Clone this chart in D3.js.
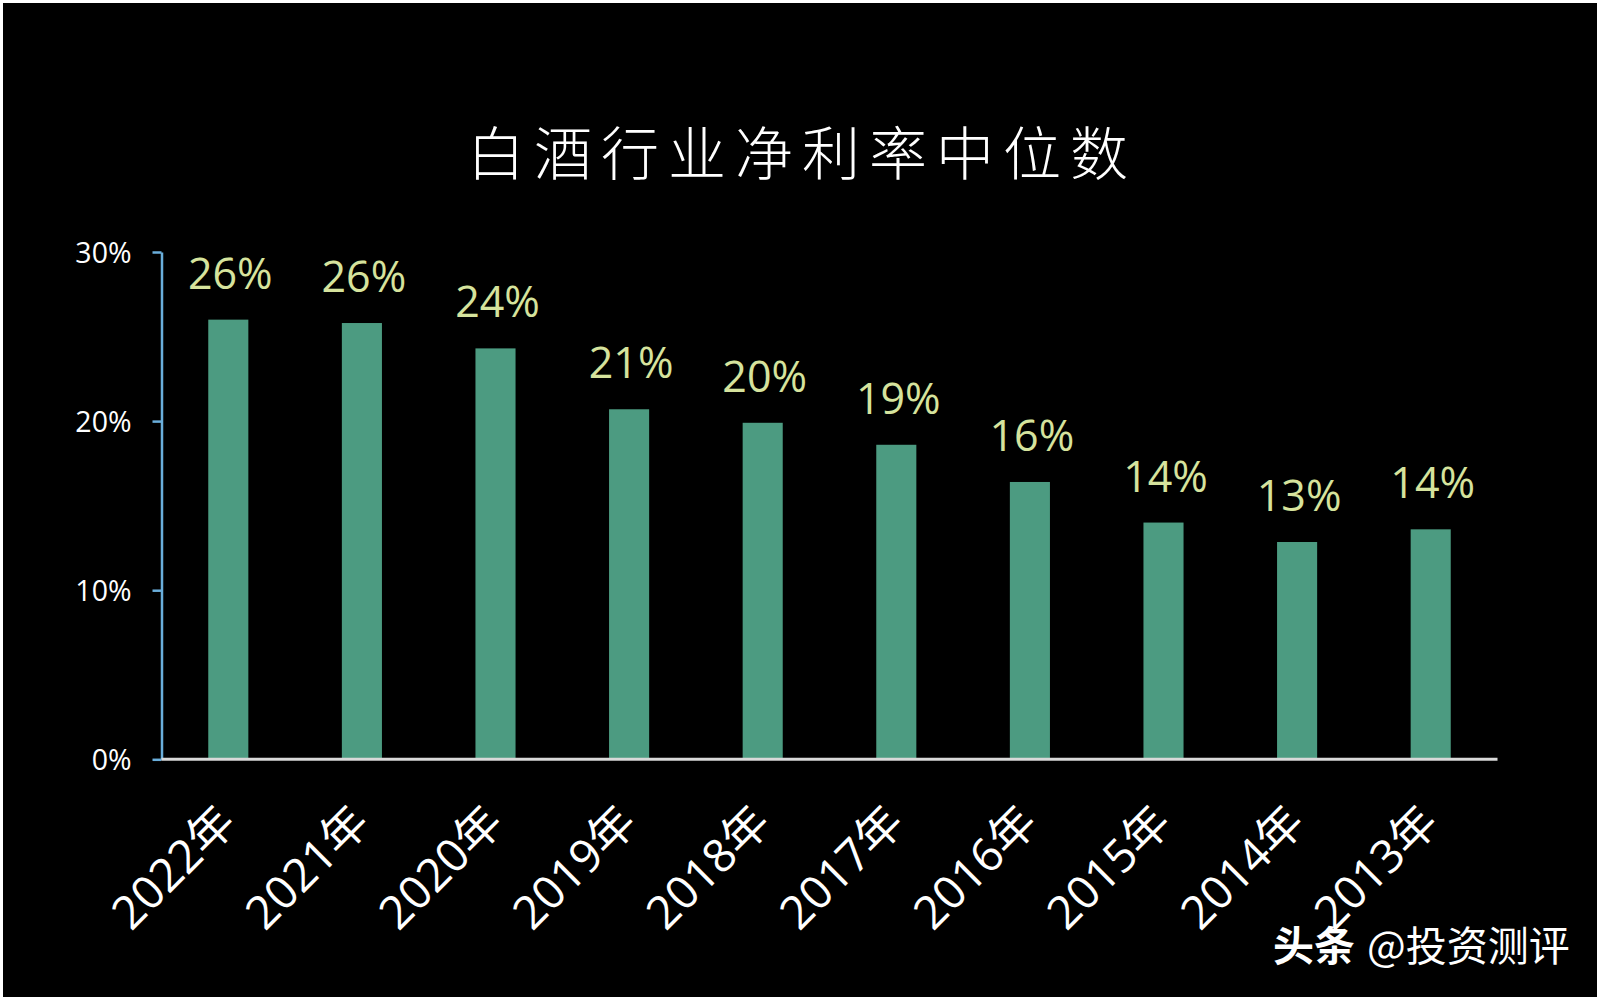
<!DOCTYPE html>
<html>
<head>
<meta charset="utf-8">
<script src="https://cdn.jsdelivr.net/npm/d3@7"></script>
<style>
    html, body { margin: 0; padding: 0; background: #ffffff; }
    svg { display: block; }
</style>
</head>
<body>
<svg id="chart" width="1600" height="1000"></svg>
<script>
'use strict';

// data
var years = ['2022年', '2021年', '2020年', '2019年', '2018年', '2017年', '2016年', '2015年', '2014年', '2013年'];
var margins = [0.260, 0.258, 0.243, 0.207, 0.199, 0.186, 0.164, 0.140, 0.1285, 0.136];
var yTicks = [0, 0.1, 0.2, 0.3];
var titleText = '白酒行业净利率中位数';
var sourceBold = '头条';
var sourceText = '@投资测评';

var W = 1600, H = 1000;
var LEFT = 161.5, RIGHT = 1497.5, TOP = 252, BOTTOM = 759.3;
var BAR = '#4c9b81';
var LABEL = '#d6e39d';
var AXIS_BLUE = '#6aaedb';
var FONT = '"Open Sans", "Noto Sans CJK SC", sans-serif';

var svg = d3.select('#chart');

// dark slide with a thin light edge
svg.append('rect').attr('x', 3).attr('y', 3).attr('width', W - 6).attr('height', H - 6).attr('fill', '#000');

svg.append('text')
    .attr('x', 467).attr('y', 175)
    .attr('fill', '#fff')
    .style('font-family', '"Noto Sans CJK SC", sans-serif')
    .style('font-weight', 300)
    .style('font-size', '58px')
    .style('letter-spacing', '9px')
    .text(titleText);

var x = d3.scaleBand().domain(years).range([LEFT, RIGHT]).paddingInner(0.7).paddingOuter(0.35);
var y = d3.scaleLinear().domain([0, 0.3]).range([BOTTOM, TOP]);

// bars
svg.append('g').selectAll('rect').data(margins).enter().append('rect')
    .attr('x', function (d, i) { return x(years[i]); })
    .attr('y', function (d) { return y(d); })
    .attr('width', x.bandwidth())
    .attr('height', function (d) { return y(0) - y(d); })
    .attr('fill', BAR);

// value labels
svg.append('g').selectAll('text').data(margins).enter().append('text')
    .attr('x', function (d, i) { return x(years[i]) + x.bandwidth() / 2 + 2; })
    .attr('y', function (d) { return y(d) - 31; })
    .attr('text-anchor', 'middle')
    .attr('fill', LABEL)
    .style('font-family', FONT)
    .style('font-size', '43px')
    .text(function (d) { return d3.format('.0%')(d); });

// y axis
var yAxis = svg.append('g').attr('transform', 'translate(' + LEFT + ',0)')
    .call(d3.axisLeft(y).tickValues(yTicks).tickFormat(d3.format('.0%')).tickSize(9).tickSizeOuter(0).tickPadding(21));
yAxis.select('.domain').attr('stroke', AXIS_BLUE).attr('stroke-width', 2.5);
yAxis.selectAll('.tick line').attr('stroke', AXIS_BLUE).attr('stroke-width', 2.5);
yAxis.selectAll('.tick text')
    .attr('fill', '#fff')
    .attr('dy', '0.36em')
    .style('font-family', FONT)
    .style('font-size', '28.5px');

// baseline
svg.append('line')
    .attr('x1', LEFT).attr('x2', RIGHT)
    .attr('y1', y(0)).attr('y2', y(0))
    .attr('stroke', '#d9d9d9').attr('stroke-width', 3);

// rotated year labels
svg.append('g').selectAll('text').data(years).enter().append('text')
    .attr('transform', function (d) {
        return 'translate(' + (x(d) + x.bandwidth() / 2 + 10) + ',' + 825 + ') rotate(-45)';
    })
    .attr('text-anchor', 'end')
    .attr('fill', '#fff')
    .style('font-family', FONT)
    .style('font-size', '46px')
    .text(function (d) { return d; });

// source mark
var src = svg.append('text')
    .attr('x', 1273).attr('y', 961)
    .attr('fill', '#fff')
    .style('font-family', '"Noto Sans CJK SC", sans-serif')
    .style('font-size', '41px');
src.append('tspan').style('font-weight', 700).text(sourceBold);
src.append('tspan').attr('dx', 12).text(sourceText);
</script>
</body>
</html>
